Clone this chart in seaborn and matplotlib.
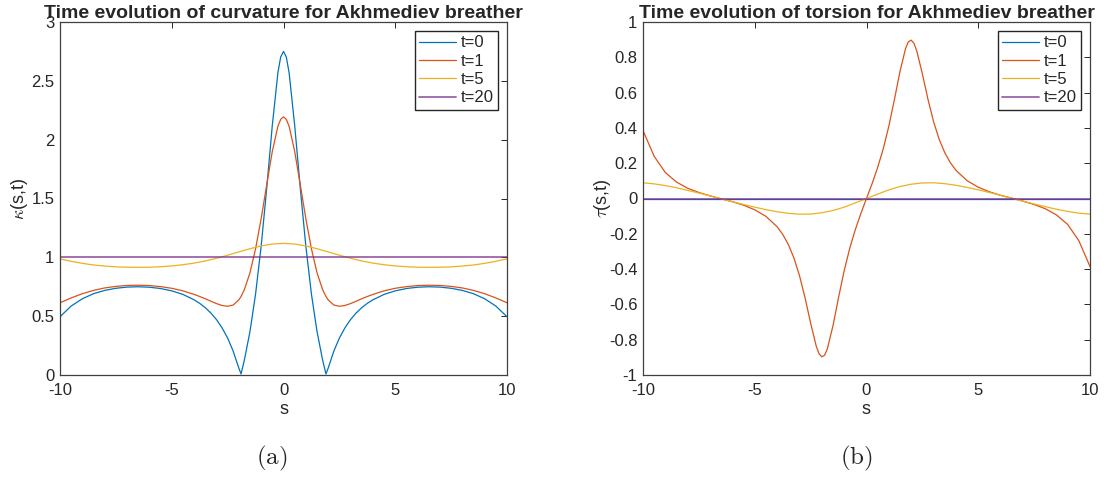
import numpy as np
import pandas as pd
import matplotlib.pyplot as plt
import matplotlib.ticker as mticker
import seaborn as sns

# values
labels = ["t=0", "t=1", "t=5", "t=20"]
colors = ["#0072BD", "#D95319", "#EDB120", "#7E2F8E"]

s_fine = [-10, -9.5, -9, -8.5, -8, -7.5, -7, -6.5, -6, -5.5, -5, -4.5, -4,
          -3.75, -3.5, -3.25, -3, -2.75, -2.5, -2.25, -2, -1.9, -1.75, -1.5,
          -1.25, -1, -0.75, -0.5, -0.25, -0.125, 0, 0.125, 0.25, 0.5, 0.75, 1,
          1.25, 1.5, 1.75, 1.9, 2, 2.25, 2.5, 2.75, 3, 3.25, 3.5, 3.75, 4,
          4.5, 5, 5.5, 6, 6.5, 7, 7.5, 8, 8.5, 9, 9.5, 10]
kappa_t0 = [0.495, 0.586, 0.648, 0.691, 0.719, 0.737, 0.747, 0.750, 0.746, 0.735,
            0.715, 0.685, 0.639, 0.609, 0.572, 0.527, 0.471, 0.401, 0.314, 0.202,
            0.059, 0.009, 0.127, 0.370, 0.687, 1.094, 1.589, 2.123, 2.570, 2.703,
            2.750, 2.703, 2.570, 2.123, 1.589, 1.094, 0.687, 0.370, 0.127, 0.009,
            0.059, 0.202, 0.314, 0.401, 0.471, 0.527, 0.572, 0.609, 0.639, 0.685,
            0.715, 0.735, 0.746, 0.750, 0.747, 0.737, 0.719, 0.691, 0.648, 0.586,
            0.495]
kappa_t1 = [0.614, 0.655, 0.691, 0.719, 0.740, 0.753, 0.761, 0.763, 0.760, 0.751,
            0.737, 0.715, 0.685, 0.667, 0.648, 0.627, 0.607, 0.591, 0.584, 0.595,
            0.638, 0.667, 0.726, 0.869, 1.072, 1.328, 1.618, 1.901, 2.114, 2.173,
            2.194, 2.173, 2.114, 1.901, 1.618, 1.328, 1.072, 0.869, 0.726, 0.667,
            0.638, 0.595, 0.584, 0.591, 0.607, 0.627, 0.648, 0.667, 0.685, 0.715,
            0.737, 0.751, 0.760, 0.763, 0.761, 0.753, 0.740, 0.719, 0.691, 0.655,
            0.614]

s_coarse = [-10, -9.5, -9, -8.5, -8, -7.5, -7, -6.5, -6, -5.5, -5, -4.5, -4,
            -3.5, -3, -2.5, -2, -1.5, -1, -0.5, 0, 0.5, 1, 1.5, 2, 2.5, 3, 3.5,
            4, 4.5, 5, 5.5, 6, 6.5, 7, 7.5, 8, 8.5, 9, 9.5, 10]
kappa_t5 = [0.987, 0.966, 0.949, 0.935, 0.926, 0.919, 0.916, 0.915, 0.916, 0.920,
            0.927, 0.937, 0.951, 0.969, 0.992, 1.018, 1.046, 1.073, 1.097, 1.113,
            1.119, 1.113, 1.097, 1.073, 1.046, 1.018, 0.992, 0.969, 0.951, 0.937,
            0.927, 0.920, 0.916, 0.915, 0.916, 0.919, 0.926, 0.935, 0.949, 0.966,
            0.987]

s_flat = [-10, 10]
kappa_t20 = [1, 1]

s_tors = [-10, -9.5, -9, -8.5, -8, -7.5, -7, -6.5, -6, -5.5, -5, -4.5, -4,
          -3.75, -3.5, -3.25, -3, -2.75, -2.5, -2.25, -2.125, -2, -1.875, -1.75,
          -1.5, -1.25, -1, -0.75, -0.5, -0.25, 0, 0.25, 0.5, 0.75, 1, 1.25, 1.5,
          1.75, 1.875, 2, 2.125, 2.25, 2.5, 2.75, 3, 3.25, 3.5, 3.75, 4, 4.5, 5,
          5.5, 6, 6.5, 7, 7.5, 8, 8.5, 9, 9.5, 10]
tau_t1 = [0.385, 0.239, 0.147, 0.093, 0.058, 0.034, 0.015, -0.002, -0.018, -0.038,
          -0.064, -0.101, -0.160, -0.203, -0.260, -0.336, -0.436, -0.562, -0.706,
          -0.836, -0.879, -0.897, -0.888, -0.851, -0.721, -0.561, -0.410, -0.282,
          -0.176, -0.084, 0, 0.084, 0.176, 0.282, 0.410, 0.561, 0.721, 0.851,
          0.888, 0.897, 0.879, 0.836, 0.706, 0.562, 0.436, 0.336, 0.260, 0.203,
          0.160, 0.101, 0.064, 0.038, 0.018, 0.002, -0.015, -0.034, -0.058,
          -0.093, -0.147, -0.239, -0.385]
tau_t5 = [0.089, 0.083, 0.073, 0.061, 0.046, 0.031, 0.015, -0.002, -0.018, -0.034,
          -0.049, -0.063, -0.075, -0.084, -0.089, -0.088, -0.081, -0.068, -0.049,
          -0.025, 0, 0.025, 0.049, 0.068, 0.081, 0.088, 0.089, 0.084, 0.075,
          0.063, 0.049, 0.034, 0.018, 0.002, -0.015, -0.031, -0.046, -0.061,
          -0.073, -0.083, -0.089]
tau_t0 = [0, 0]
tau_t20 = [0, 0]

x_ticks = [-10, -5, 0, 5, 10]
kappa_ticks = [0, 0.5, 1, 1.5, 2, 2.5, 3]
tau_ticks = [-1, -0.8, -0.6, -0.4, -0.2, 0, 0.2, 0.4, 0.6, 0.8, 1]


def long_df(parts):
    frames = [pd.DataFrame({"s": s, "y": y, "t": lab}) for lab, (s, y) in zip(labels, parts)]
    return pd.concat(frames, ignore_index=True)


df_k = long_df([(s_fine, kappa_t0), (s_fine, kappa_t1), (s_coarse, kappa_t5), (s_flat, kappa_t20)])
df_t = long_df([(s_flat, tau_t0), (s_tors, tau_t1), (s_coarse, tau_t5), (s_flat, tau_t20)])

sns.set_theme(style="white")
plt.rcParams["font.family"] = ["Liberation Sans", "DejaVu Sans"]
plt.rcParams["axes.unicode_minus"] = False
plt.rcParams["mathtext.fontset"] = "cm"

fig = plt.figure(figsize=(11.1, 4.8), dpi=100)
ax1 = fig.add_axes([60 / 1110, 105 / 480, 447 / 1110, 353 / 480])
ax2 = fig.add_axes([643 / 1110, 105 / 480, 447 / 1110, 353 / 480])

panels = [
    (ax1, df_k, (0, 3), kappa_ticks, r"$\kappa$(s,t)",
     "Time evolution of curvature for Akhmediev breather"),
    (ax2, df_t, (-1, 1), tau_ticks, r"$\tau$(s,t)",
     "Time evolution of torsion for Akhmediev breather"),
]

for ax, d, ylim, yt, ylab, title in panels:
    sns.lineplot(data=d, x="s", y="y", hue="t", hue_order=labels, palette=colors,
                 linewidth=0.9, estimator=None, sort=False, legend=False, ax=ax)
    ax.lines[3].set_linewidth(1.3)
    ax.lines[3].set_alpha(0.75)
    ax.set_xlim(-10, 10)
    ax.set_ylim(*ylim)
    ax.set_xticks(x_ticks)
    ax.set_yticks(yt)
    ax.xaxis.set_major_formatter(mticker.FormatStrFormatter("%g"))
    ax.yaxis.set_major_formatter(mticker.FormatStrFormatter("%g"))
    ax.tick_params(direction="in", top=True, right=True, length=4, width=0.7,
                   color="#262626", labelcolor="#262626", labelsize=12, pad=4)
    ax.tick_params(axis="x", pad=6)
    for sp in ax.spines.values():
        sp.set_color("#404040")
        sp.set_linewidth(0.9)
    ax.set_xlabel("s", fontsize=13, color="#262626", labelpad=2)
    ax.set_ylabel(ylab, fontsize=13, color="#262626")
    ax.yaxis.set_label_coords(-0.068, 0.5)
    ax.set_title(title, fontsize=14, fontweight="bold", pad=3)
    ax.legend(ax.lines, labels, loc="upper right", fontsize=12, frameon=True,
              fancybox=False, edgecolor="#262626", framealpha=1,
              handlelength=2.2, handletextpad=0.3, labelspacing=0.2,
              borderpad=0.25, borderaxespad=0.55)

fig.text(272 / 1110, 1 - 458 / 480, r"$\mathrm{(a)}$", fontsize=18, ha="center", va="center")
fig.text(856 / 1110, 1 - 458 / 480, r"$\mathrm{(b)}$", fontsize=18, ha="center", va="center")

fig.savefig("out.png", dpi=100)
